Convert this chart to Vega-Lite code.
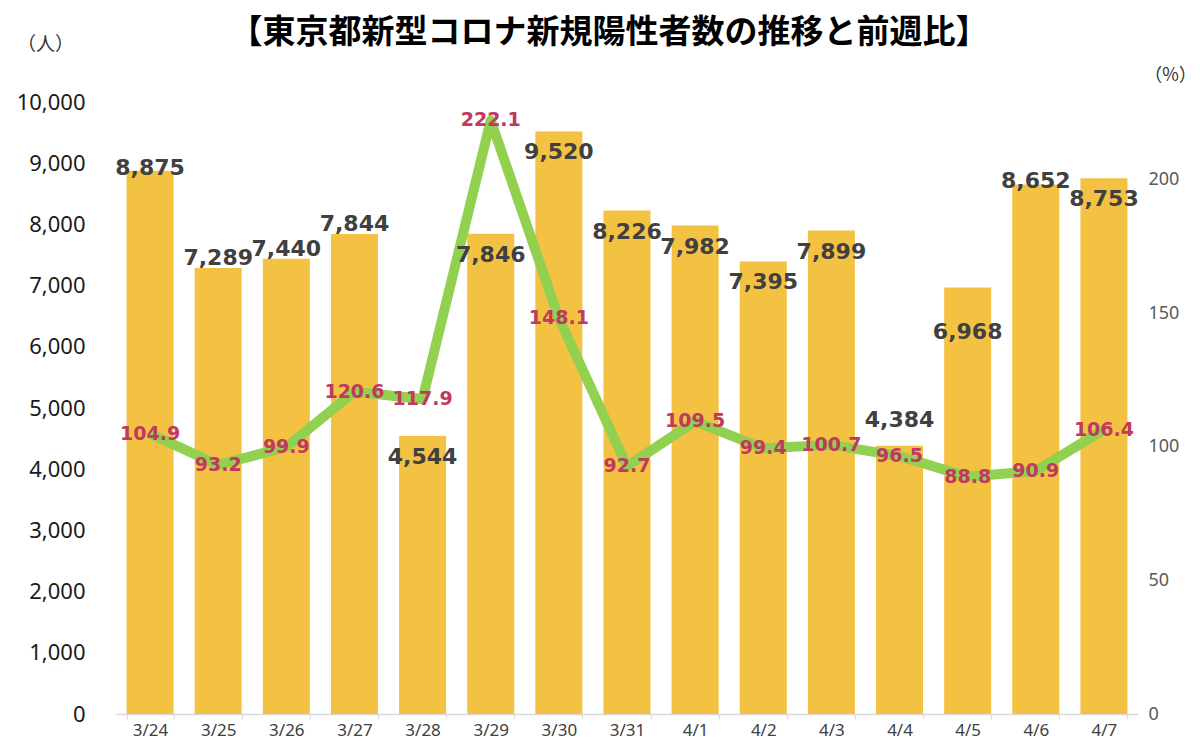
{
  "$schema": "https://vega.github.io/schema/vega-lite/v6.json",
  "width": 1022,
  "height": 612,
  "autosize": "none",
  "padding": {"left": 116, "top": 102, "right": 62, "bottom": 38},
  "background": "white",
  "config": {"view": {"stroke": null}, "font": "Noto Sans"},
  "title": {
    "text": "【東京都新型コロナ新規陽性者数の推移と前週比】",
    "font": "Noto Sans CJK JP",
    "fontSize": 33,
    "fontWeight": "bold",
    "color": "#000000",
    "anchor": "middle",
    "dx": -18,
    "offset": -15
  },
  "data": {
    "values": [
      {"date": "3/24", "cases": 8875, "ratio": 104.9},
      {"date": "3/25", "cases": 7289, "ratio": 93.2},
      {"date": "3/26", "cases": 7440, "ratio": 99.9},
      {"date": "3/27", "cases": 7844, "ratio": 120.6},
      {"date": "3/28", "cases": 4544, "ratio": 117.9},
      {"date": "3/29", "cases": 7846, "ratio": 222.1},
      {"date": "3/30", "cases": 9520, "ratio": 148.1},
      {"date": "3/31", "cases": 8226, "ratio": 92.7},
      {"date": "4/1", "cases": 7982, "ratio": 109.5},
      {"date": "4/2", "cases": 7395, "ratio": 99.4},
      {"date": "4/3", "cases": 7899, "ratio": 100.7},
      {"date": "4/4", "cases": 4384, "ratio": 96.5},
      {"date": "4/5", "cases": 6968, "ratio": 88.8},
      {"date": "4/6", "cases": 8652, "ratio": 90.9},
      {"date": "4/7", "cases": 8753, "ratio": 106.4}
    ]
  },
  "encoding": {
    "x": {
      "field": "date",
      "type": "ordinal",
      "sort": null,
      "scale": {"paddingInner": 0.31, "paddingOuter": 0.155},
      "axis": {
        "title": null,
        "labelAngle": 0,
        "labelFontSize": 17,
        "labelColor": "#404040",
        "labelPadding": 3,
        "domainColor": "#d9d9d9",
        "domainWidth": 1.5,
        "tickColor": "#d9d9d9",
        "tickBand": "extent",
        "tickSize": 5,
        "grid": false
      }
    }
  },
  "layer": [
    {
      "mark": {"type": "bar", "color": "#F4C243"},
      "encoding": {
        "y": {
          "field": "cases",
          "type": "quantitative",
          "scale": {"domain": [0, 10000], "nice": false},
          "axis": {
            "orient": "left",
            "title": "（人）",
            "titleAngle": 0,
            "titleFontSize": 19,
            "titleFontWeight": "normal",
            "titleColor": "#333333",
            "titleFont": "Noto Sans CJK JP",
            "titleX": -71,
            "titleY": -58,
            "titleAlign": "center",
            "titleBaseline": "middle",
            "values": [0, 1000, 2000, 3000, 4000, 5000, 6000, 7000, 8000, 9000, 10000],
            "format": ",.0f",
            "labelFontSize": 22,
            "labelColor": "#1a1a1a",
            "labelPadding": 31,
            "ticks": false,
            "domain": false,
            "grid": false
          }
        }
      }
    },
    {
      "mark": {"type": "line", "color": "#92D050", "strokeWidth": 10, "strokeJoin": "round"},
      "encoding": {
        "y": {
          "field": "ratio",
          "type": "quantitative",
          "scale": {"domain": [0, 229], "nice": false},
          "axis": {
            "orient": "right",
            "title": "（%）",
            "titleAngle": 0,
            "titleFontSize": 18,
            "titleFontWeight": "normal",
            "titleColor": "#333333",
            "titleFont": "Noto Sans CJK JP",
            "titleX": 32,
            "titleY": -27,
            "titleAlign": "center",
            "titleBaseline": "middle",
            "values": [0, 50, 100, 150, 200],
            "labelFontSize": 18,
            "labelColor": "#595959",
            "labelPadding": 10,
            "ticks": false,
            "domain": false,
            "grid": false
          }
        }
      }
    },
    {
      "transform": [{"filter": {"field": "date", "oneOf": ["3/24", "4/6"]}}],
      "mark": {"type": "text", "font": "DejaVu Sans", "fontSize": 22, "fontWeight": "bold", "color": "#404040", "baseline": "middle", "dy": -3},
      "encoding": {
        "y": {"field": "cases", "type": "quantitative", "scale": {"domain": [0, 10000], "nice": false}, "axis": null},
        "text": {"field": "cases", "type": "quantitative", "format": ",.0f"}
      }
    },
    {
      "transform": [{"filter": {"field": "date", "oneOf": ["3/25", "3/26", "3/27"]}}],
      "mark": {"type": "text", "font": "DejaVu Sans", "fontSize": 22, "fontWeight": "bold", "color": "#404040", "baseline": "middle", "dy": -10},
      "encoding": {
        "y": {"field": "cases", "type": "quantitative", "scale": {"domain": [0, 10000], "nice": false}, "axis": null},
        "text": {"field": "cases", "type": "quantitative", "format": ",.0f"}
      }
    },
    {
      "transform": [{"filter": {"field": "date", "oneOf": ["4/4"]}}],
      "mark": {"type": "text", "font": "DejaVu Sans", "fontSize": 22, "fontWeight": "bold", "color": "#404040", "baseline": "middle", "dy": -26},
      "encoding": {
        "y": {"field": "cases", "type": "quantitative", "scale": {"domain": [0, 10000], "nice": false}, "axis": null},
        "text": {"field": "cases", "type": "quantitative", "format": ",.0f"}
      }
    },
    {
      "transform": [{"filter": {"field": "date", "oneOf": ["3/28", "3/29", "3/30", "3/31", "4/1", "4/2", "4/3", "4/7"]}}],
      "mark": {"type": "text", "font": "DejaVu Sans", "fontSize": 22, "fontWeight": "bold", "color": "#404040", "baseline": "middle", "dy": 21},
      "encoding": {
        "y": {"field": "cases", "type": "quantitative", "scale": {"domain": [0, 10000], "nice": false}, "axis": null},
        "text": {"field": "cases", "type": "quantitative", "format": ",.0f"}
      }
    },
    {
      "transform": [{"filter": {"field": "date", "oneOf": ["4/5"]}}],
      "mark": {"type": "text", "font": "DejaVu Sans", "fontSize": 22, "fontWeight": "bold", "color": "#404040", "baseline": "middle", "dy": 44},
      "encoding": {
        "y": {"field": "cases", "type": "quantitative", "scale": {"domain": [0, 10000], "nice": false}, "axis": null},
        "text": {"field": "cases", "type": "quantitative", "format": ",.0f"}
      }
    },
    {
      "mark": {"type": "text", "font": "DejaVu Sans", "fontSize": 19, "fontWeight": "bold", "color": "#C0395E", "baseline": "middle"},
      "encoding": {
        "y": {"field": "ratio", "type": "quantitative", "scale": {"domain": [0, 229], "nice": false}, "axis": null},
        "text": {"field": "ratio", "type": "quantitative", "format": ".1f"}
      }
    }
  ],
  "resolve": {"scale": {"y": "independent"}}
}
